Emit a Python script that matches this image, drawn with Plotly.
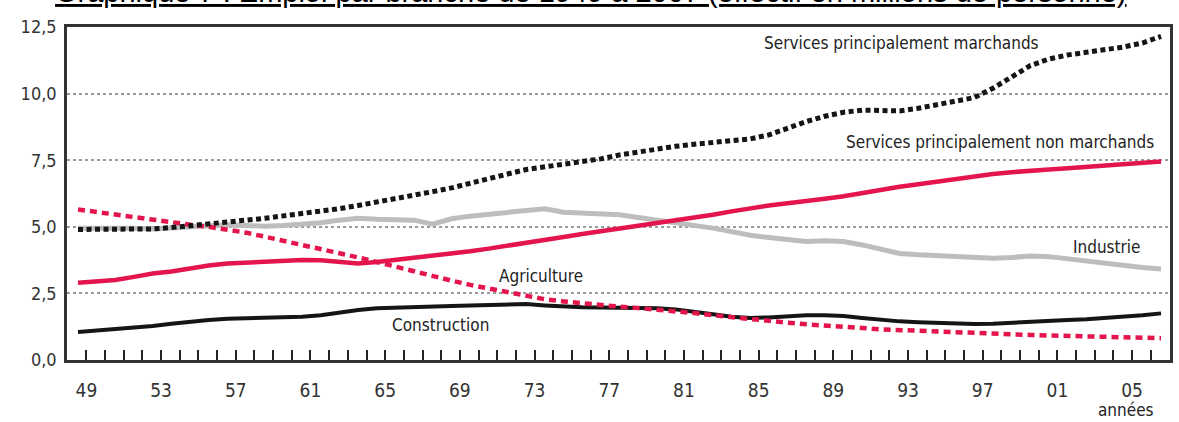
import plotly.graph_objects as go

years = list(range(1949, 2008))

services_marchands = [
    4.90, 4.90, 4.90, 4.90, 4.92, 4.97, 5.03, 5.10, 5.18, 5.25,
    5.32, 5.40, 5.48, 5.57, 5.68, 5.80, 5.92, 6.05, 6.18, 6.32,
    6.46, 6.62, 6.80, 6.98, 7.15, 7.25, 7.35, 7.42, 7.55, 7.70,
    7.82, 7.92, 8.02, 8.10, 8.18, 8.25, 8.30, 8.45, 8.70, 8.95,
    9.15, 9.30, 9.38, 9.38, 9.35, 9.45, 9.58, 9.68, 9.85, 10.20,
    10.65, 11.05, 11.30, 11.45, 11.55, 11.65, 11.75, 11.90, 12.15]

services_non_marchands = [
    2.90, 2.93, 3.00, 3.12, 3.25, 3.32, 3.45, 3.55, 3.62, 3.66,
    3.69, 3.72, 3.75, 3.74, 3.68, 3.62, 3.68, 3.76, 3.82, 3.88,
    3.98, 4.08, 4.18, 4.28, 4.40, 4.50, 4.62, 4.73, 4.83, 4.92,
    5.02, 5.12, 5.22, 5.33, 5.45, 5.58, 5.70, 5.80, 5.88, 5.95,
    6.05, 6.15, 6.28, 6.40, 6.50, 6.60, 6.70, 6.78, 6.88, 6.98,
    7.05, 7.12, 7.15, 7.20, 7.25, 7.30, 7.35, 7.40, 7.45]

industrie = [
    4.95, 4.95, 4.97, 4.95, 4.92, 4.95, 5.00, 5.05, 5.08, 5.05,
    5.02, 5.05, 5.10, 5.15, 5.25, 5.32, 5.28, 5.25, 5.25, 5.10,
    5.30, 5.40, 5.48, 5.55, 5.62, 5.68, 5.55, 5.52, 5.52, 5.45,
    5.35, 5.25, 5.18, 5.08, 4.95, 4.82, 4.68, 4.60, 4.52, 4.45,
    4.48, 4.45, 4.32, 4.15, 4.00, 3.95, 3.92, 3.88, 3.85, 3.82,
    3.85, 3.90, 3.88, 3.80, 3.68, 3.60, 3.52, 3.47, 3.42]

agriculture = [
    5.65, 5.55, 5.45, 5.38, 5.28, 5.18, 5.08, 5.00, 4.90, 4.78,
    4.63, 4.48, 4.33, 4.18, 4.02, 3.85, 3.68, 3.50, 3.30, 3.12,
    2.98, 2.82, 2.68, 2.52, 2.40, 2.28, 2.20, 2.12, 2.06, 2.00,
    1.95, 1.90, 1.84, 1.76, 1.68, 1.60, 1.53, 1.46, 1.40, 1.34,
    1.28, 1.24, 1.20, 1.15, 1.12, 1.08, 1.05, 1.02, 1.00, 0.98,
    0.96, 0.94, 0.92, 0.90, 0.88, 0.86, 0.85, 0.83, 0.82]

construction = [
    1.05, 1.10, 1.16, 1.22, 1.28, 1.36, 1.44, 1.50, 1.55, 1.57,
    1.58, 1.60, 1.62, 1.68, 1.78, 1.88, 1.94, 1.97, 2.00, 2.02,
    2.03, 2.05, 2.06, 2.08, 2.10, 2.05, 2.00, 1.98, 1.97, 1.96,
    1.96, 1.94, 1.90, 1.82, 1.72, 1.62, 1.58, 1.60, 1.65, 1.68,
    1.68, 1.65, 1.58, 1.50, 1.45, 1.42, 1.40, 1.36, 1.35, 1.36,
    1.40, 1.45, 1.48, 1.50, 1.53, 1.57, 1.62, 1.68, 1.75]

y_ticks = [0, 2.5, 5, 7.5, 10, 12.5]
y_tick_labels = ["0,0", "2,5", "5,0", "7,5", "10,0", "12,5"]
x_label_years = [1949, 1953, 1957, 1961, 1965, 1969, 1973, 1977, 1981, 1985, 1989, 1993, 1997, 2001, 2005]

title_text = "Graphique 7 : Emploi par branche de 1949 à 2007 (effectif en millions de personne)"

RED = "#e3154c"
FONT = "Liberation Sans Narrow, DejaVu Sans Condensed, sans-serif"

fig = go.Figure()
fig.add_trace(go.Scatter(x=years, y=industrie, mode="lines",
                         line=dict(color="#bdbdbd", width=5), name="Industrie"))
fig.add_trace(go.Scatter(x=years, y=construction, mode="lines",
                         line=dict(color="#151515", width=4), name="Construction"))
fig.add_trace(go.Scatter(x=years, y=agriculture, mode="lines",
                         line=dict(color=RED, width=4.5, dash="7px,5px"), name="Agriculture"))
fig.add_trace(go.Scatter(x=years, y=services_non_marchands, mode="lines",
                         line=dict(color=RED, width=4.5), name="Services principalement non marchands"))
fig.add_trace(go.Scatter(x=years, y=services_marchands, mode="lines",
                         line=dict(color="#151515", width=5, dash="5px,3.5px"), name="Services principalement marchands"))

# ticks every year, labels every 4 years
tickvals = [y + 0.45 for y in years]
ticktext = [(str(y)[-2:] if y in x_label_years else "") for y in years]

fig.update_xaxes(
    range=[1948.41, 2007.48], tickvals=tickvals, ticktext=ticktext,
    ticks="inside", ticklen=10, tickwidth=1.5, tickcolor="#222",
    showline=True, linecolor="#333", linewidth=2.5, mirror=True,
    showgrid=False, zeroline=False, ticklabelstandoff=11,
    tickfont=dict(family=FONT, size=19, color="#333"),
)
fig.update_yaxes(
    range=[0, 12.5], tickvals=y_ticks, ticktext=y_tick_labels,
    ticks="", showline=True, linecolor="#333", linewidth=2.5, mirror=True,
    showgrid=True, gridcolor="#9a9a9a", griddash="dot", gridwidth=1.5,
    zeroline=False, ticklabelstandoff=4,
    tickfont=dict(family=FONT, size=18, color="#333"),
)

def ann(text, x, y, xanchor="center", size=17):
    fig.add_annotation(text=text, x=x, y=y, xref="x", yref="y", showarrow=False,
                       xanchor=xanchor, yanchor="middle",
                       font=dict(family=FONT, size=size, color="#222"))

ann("Services principalement marchands", 1993.1, 11.9)
ann("Services principalement non marchands", 1998.4, 8.18)
ann("Industrie", 2004.1, 4.26)
ann("Agriculture", 1973.8, 3.15)
ann("Construction", 1968.4, 1.33)

fig.add_annotation(text="années", x=0.96, y=-0.15, xref="paper", yref="paper",
                   showarrow=False, xanchor="center", yanchor="middle",
                   font=dict(family=FONT, size=17, color="#222"))

fig.add_annotation(text="<u>" + title_text + "</u>", x=0.475, y=1.05,
                   xref="paper", yref="paper", showarrow=False,
                   xanchor="center", yanchor="bottom",
                   font=dict(family="Liberation Sans, Arial, sans-serif", size=29, color="#000"))

fig.update_layout(
    width=1179, height=422,
    margin=dict(l=67, r=6, t=27, b=62),
    plot_bgcolor="white", paper_bgcolor="white",
    showlegend=False,
)

fig.write_html("out.html", config={"displayModeBar": False},
               post_script="document.body.style.margin='0';")
